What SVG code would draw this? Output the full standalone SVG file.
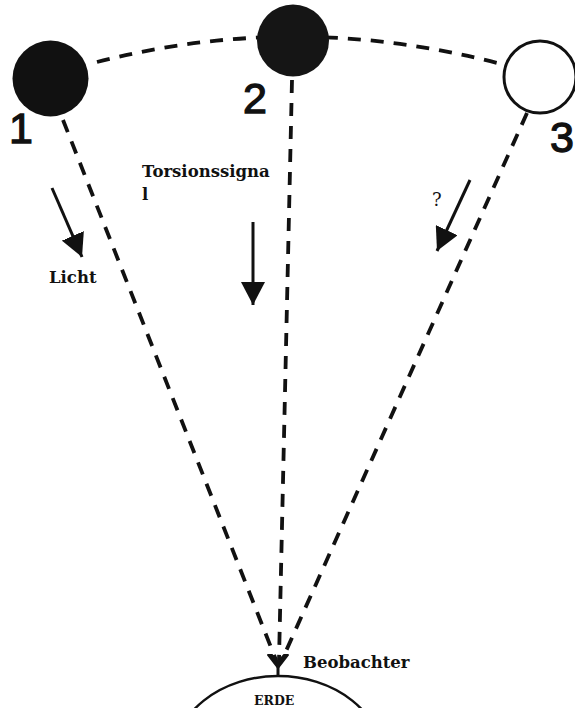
<svg xmlns="http://www.w3.org/2000/svg" width="575" height="708" viewBox="0 0 575 708">
<style>
.dash{fill:none;stroke:#111;stroke-width:3.8;stroke-dasharray:13 10}
.arr{fill:none;stroke:#111;stroke-width:3}
.num{font-family:"Liberation Sans",Arial,sans-serif;font-size:43px;fill:#111;stroke:#111;stroke-width:1.3}
.lbl{font-family:"DejaVu Serif",serif;font-weight:bold;font-size:16.5px;fill:#111}
</style>
<defs>
<marker id="ah" markerUnits="userSpaceOnUse" markerWidth="24" markerHeight="24" refX="23" refY="12" orient="auto">
<path d="M0,0 L23,12 L0,24 Z" fill="#111"/>
</marker>
</defs>
<rect width="575" height="708" fill="#fff"/>
<g id="connectors">
<path class="dash" d="M97,62 Q299,10 505,65"/>
<path class="dash" d="M63,120 L276,660"/>
<path class="dash" d="M292,80 L279,660"/>
<path class="dash" d="M527,113 L282,660"/>
<line class="arr" x1="52" y1="188" x2="82" y2="257" marker-end="url(#ah)"/>
<line class="arr" x1="253" y1="222" x2="253" y2="305" marker-end="url(#ah)"/>
<line class="arr" x1="470" y1="180" x2="437" y2="251" marker-end="url(#ah)"/>
</g>
<g id="node1">
<circle cx="50.5" cy="78.5" r="38" fill="#111"/>
<text class="num" x="9" y="143">1</text>
</g>
<g id="node2">
<circle cx="293" cy="40.5" r="36" fill="#151515"/>
<text class="num" x="243" y="113">2</text>
</g>
<g id="node3">
<circle cx="540" cy="77" r="36" fill="#fff" stroke="#111" stroke-width="3"/>
<text class="num" x="550" y="152">3</text>
</g>
<g id="licht">
<text class="lbl" x="49" y="283">Licht</text>
</g>
<g id="torsion">
<text class="lbl" x="142" y="177">Torsionssigna</text>
<text class="lbl" x="142" y="200">l</text>
</g>
<g id="question">
<text x="432" y="206" font-family="DejaVu Serif,serif" font-size="18" fill="#111">?</text>
</g>
<g id="erde">
<ellipse cx="278" cy="760" rx="105" ry="84" fill="none" stroke="#111" stroke-width="2.5"/>
<path d="M268,655 L278,668 L288,655 L284,655 L278,662 L272,655 Z" fill="#111" stroke="#111" stroke-width="2" stroke-linejoin="round"/>
<line x1="278" y1="664" x2="278" y2="677" stroke="#111" stroke-width="3"/>
<text x="254" y="705" font-family="DejaVu Serif,serif" font-weight="bold" font-size="12.5" fill="#111">ERDE</text>
</g>
<g id="beobachter">
<text class="lbl" x="303" y="668">Beobachter</text>
</g>
</svg>
